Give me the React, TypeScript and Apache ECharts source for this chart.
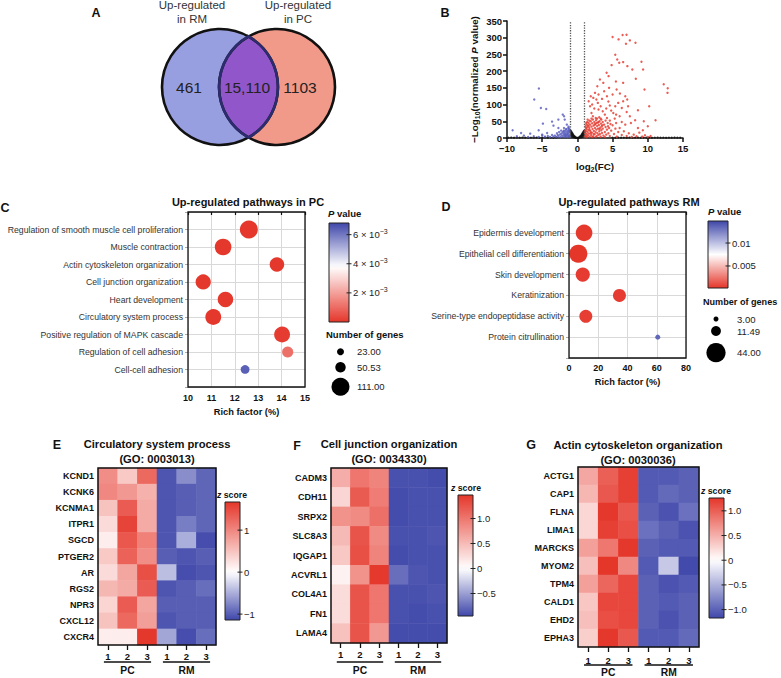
import React, { useEffect, useRef } from "react";
import * as echarts from "echarts";

const FONT = "'Liberation Sans', Arial, Helvetica, sans-serif";
const INK = "#111111";
const RED = "#e5362a";
const BLUE = "#3f47aa";

// ---------------- Panel A : Venn ----------------
const vennLabels = ["Up-regulated\nin RM", "Up-regulated\nin PC"];
const vennCounts = [461, 15110, 1103];

// ---------------- Panel B : volcano ----------------
const volcanoNS: number[][] = [
  [-9.8, 1], [-9.4, 1.5], [-9, 0.8], [-8.6, 1.2], [-8.2, 0.8], [-7.8, 1.5], [-7.4, 1], [-7, 0.6], [-6.6, 1.2],
  [-6.2, 0.8], [-5.8, 1.4], [-5.4, 0.7], [-5, 1], [-4.6, 1.5], [-4.2, 0.8], [-3.8, 1.2], [-3.4, 0.7], [-3, 1.3],
  [5.0, 1], [5.4, 0.6], [5.8, 1.3], [6.2, 0.8], [6.6, 1.2], [7, 0.7], [7.4, 1.4], [7.8, 0.8], [8.2, 1], [8.6, 1.5],
  [9, 0.7], [9.4, 1.2], [9.8, 0.8], [10.2, 1.3], [10.6, 0.7], [11, 1], [11.4, 1.4], [11.8, 0.8], [12.2, 1.1],
  [12.6, 0.7], [13, 1.2], [13.4, 0.8], [13.8, 1.3], [14.2, 0.9], [14.6, 1.1],
  [-0.98, 22], [-0.95, 16], [-0.92, 9], [-0.9, 20], [-0.88, 4], [-0.85, 13], [-0.82, 17], [-0.8, 7], [-0.77, 11],
  [-0.74, 15], [-0.7, 3], [-0.68, 9], [-0.65, 12], [-0.6, 6], [-0.57, 9], [-0.53, 2], [-0.5, 5], [-0.45, 3],
  [-0.42, 6], [-0.38, 2], [-0.33, 3], [-0.28, 1], [-0.22, 1.5], [-0.15, 0.5], [-0.08, 0.3], [0, 0.2], [0.08, 0.3],
  [0.15, 0.5], [0.22, 1.5], [0.28, 1], [0.33, 3], [0.38, 2], [0.42, 6], [0.45, 3], [0.5, 5], [0.53, 2], [0.57, 9],
  [0.6, 6], [0.65, 12], [0.68, 9], [0.7, 3], [0.74, 15], [0.77, 11], [0.8, 7], [0.82, 17], [0.85, 13], [0.88, 4],
  [0.9, 20], [0.92, 9], [0.95, 16], [0.98, 22],
];
const volcanoDown: number[][] = [
  [-5.47, 148], [-6.13, 115], [-5.19, 90], [-4.43, 87], [-9.2, 23], [-8.0, 15], [-6.7, 13], [-5.5, 23], [-4.9, 43],
  [-3.6, 49], [-3.4, 37], [-2.7, 30], [-2.08, 70], [-1.89, 65], [-1.8, 55], [-1.5, 40], [-2.7, 55], [-4.3, 15],
  [-5, 10], [-7.6, 7], [-8.6, 5],
  [-1.05, 3], [-1.1, 10], [-1.15, 18], [-1.2, 24], [-1.25, 6], [-1.3, 14], [-1.35, 21], [-1.4, 2], [-1.45, 9],
  [-1.5, 17], [-1.55, 25], [-1.6, 5], [-1.65, 12], [-1.7, 20], [-1.75, 3], [-1.8, 15], [-1.85, 8], [-1.9, 22],
  [-1.95, 11], [-2.0, 4], [-2.1, 16], [-2.2, 7], [-2.3, 13], [-2.4, 3], [-2.5, 10], [-2.6, 18], [-2.7, 5],
  [-2.8, 9], [-2.9, 14], [-3.0, 3], [-3.2, 7], [-3.4, 4], [-3.6, 9], [-3.9, 3], [-4.2, 6], [-4.6, 4], [-5.0, 7],
  [-5.5, 3], [-6.2, 5], [-7.0, 3], [-1.15, 28], [-1.3, 30], [-1.6, 27], [-1.25, 34], [-1.9, 30], [-1.1, 20],
  [-1.4, 12], [-1.7, 8], [-2.0, 19], [-2.3, 22], [-1.2, 5],
];
const volcanoUp: number[][] = [
  [5.0, 302], [6.42, 308], [6.98, 309], [7.45, 292], [5.85, 295], [6.9, 282], [8.25, 285],
  [5.38, 249], [5.66, 235], [5.94, 225], [6.5, 227], [7.1, 215], [7.8, 205], [9.1, 228], [9.33, 205],
  [4.15, 195], [4.43, 185], [4.86, 218], [3.2, 175], [3.68, 165], [2.83, 155], [5.47, 169], [6.5, 165], [8.3, 177],
  [5.57, 145], [6.04, 133], [7.08, 115], [6.8, 125], [9.53, 145], [12.26, 161], [12.83, 149], [12.8, 135],
  [2.26, 120], [2.7, 115], [3.5, 117], [4.4, 109], [4.6, 97], [5.38, 95], [6.5, 110], [7.2, 95], [8.6, 83], [10.2, 95],
  [1.8, 95], [2.0, 75], [3.0, 85], [3.9, 70], [5.1, 75], [6.0, 65], [7.45, 65], [8.2, 53], [9.43, 50], [11.1, 53],
  [10.0, 35], [8.6, 30], [9.3, 23],
  [1.6, 110], [2.1, 100], [2.4, 88], [2.9, 105], [3.3, 95], [3.6, 80], [4.1, 88], [4.8, 82], [5.5, 70], [2.2, 65],
  [2.6, 60], [3.1, 62], [3.4, 55], [4.2, 60], [4.6, 52], [5.3, 58], [6.3, 48], [6.8, 40], [7.6, 45], [2.5, 135],
  [3.8, 140], [4.2, 125], [1.9, 125], [3.0, 130], [5.8, 105], [6.3, 90], [7.0, 78], [4.5, 150], [5.0, 130],
  [1.05, 3], [1.1, 8], [1.15, 14], [1.2, 20], [1.25, 5], [1.3, 26], [1.35, 11], [1.4, 32], [1.45, 18], [1.5, 38],
  [1.5, 7], [1.55, 24], [1.6, 45], [1.65, 13], [1.7, 30], [1.75, 4], [1.8, 40], [1.85, 20], [1.9, 50], [1.95, 9],
  [2.0, 34], [2.05, 16], [2.1, 44], [2.15, 27], [2.2, 55], [2.25, 5], [2.3, 37], [2.35, 21], [2.4, 48], [2.45, 11],
  [2.5, 30], [2.55, 42], [2.6, 17], [2.65, 53], [2.7, 25], [2.75, 6], [2.8, 36], [2.85, 14], [2.9, 46], [2.95, 28],
  [3.0, 9], [3.05, 39], [3.1, 20], [3.15, 50], [3.2, 12], [3.25, 31], [3.3, 4], [3.35, 43], [3.4, 23], [3.45, 35],
  [3.5, 15], [3.6, 28], [3.7, 7], [3.8, 40], [3.9, 18], [4.0, 33], [4.1, 10], [4.2, 25], [4.3, 45], [4.4, 14],
  [4.5, 30], [4.6, 6], [4.8, 22], [5.0, 38], [5.2, 12], [5.4, 28], [5.6, 4], [5.8, 18], [6.0, 30], [6.3, 9],
  [6.6, 20], [7.0, 6], [7.3, 14], [7.7, 3], [8.0, 10], [8.4, 5], [8.8, 16], [9.2, 4], [9.6, 8], [10.0, 3], [10.4, 6],
  [1.2, 30], [1.3, 40], [1.6, 35], [1.7, 52], [1.4, 48], [2.0, 58], [2.3, 12], [2.6, 3], [3.0, 48], [2.8, 58],
  [3.6, 48], [3.3, 58], [4.0, 52], [3.9, 3], [4.7, 42], [5.5, 45], [1.1, 22], [1.9, 15], [2.1, 3], [2.7, 45],
  [1.15, 35], [1.25, 45], [1.45, 55], [1.35, 2], [1.75, 24], [2.45, 40], [3.15, 27], [3.55, 38], [4.35, 35], [1.05, 17],
];
const volcanoFcCut = [-1, 1];

// ---------------- Panel C ----------------
const pathwaysPC = [
  "Regulation of smooth muscle cell proliferation",
  "Muscle contraction",
  "Actin cytoskeleton organization",
  "Cell junction organization",
  "Heart development",
  "Circulatory system process",
  "Positive regulation of MAPK cascade",
  "Regulation of cell adhesion",
  "Cell-cell adhesion",
];
const richPC = [12.6, 11.5, 13.8, 10.65, 11.6, 11.08, 14.02, 14.26, 12.44];
const genesPC = [111, 100, 83, 89, 91, 94, 94, 56, 37];
const pPC = [0.00002, 0.00003, 0.00004, 0.00003, 0.00005, 0.00004, 0.0001, 0.0011, 0.0064];
const pRangePC = [0, 0.0038, 0.0068];
const pTicksPC = [0.002, 0.004, 0.006];
const pTickLabelsPC = ["{n|2 × 10}{s|−3}", "{n|4 × 10}{s|−3}", "{n|6 × 10}{s|−3}"];
const genesLegendPC = [23, 50.53, 111];

// ---------------- Panel D ----------------
const pathwaysRM = [
  "Epidermis development",
  "Epithelial cell differentiation",
  "Skin development",
  "Keratinization",
  "Serine-type endopeptidase activity",
  "Protein citrullination",
];
const richRM = [10.3, 6.4, 9.4, 34.5, 11.5, 60.7];
const genesRM = [33, 39, 24, 20, 20, 3];
const pRM = [0.0003, 0.0002, 0.0004, 0.0004, 0.0005, 0.0135];
const pRangeRM = [0.0002, 0.0075, 0.0148];
const pTicksRM = [0.005, 0.01];
const pTickLabelsRM = ["0.005", "0.01"];
const genesLegendRM = [3, 11.49, 44];

// ---------------- Heatmaps ----------------
const samples = ["1", "2", "3", "1", "2", "3"];
const groups = ["PC", "RM"];

const genesE = ["KCND1", "KCNK6", "KCNMA1", "ITPR1", "SGCD", "PTGER2", "AR", "RGS2", "NPR3", "CXCL12", "CXCR4"];
const zE = [
  [0.95, 0.45, 1.25, -1.05, -0.7, -0.95],
  [1.0, 0.85, 0.65, -1.05, -1.0, -0.95],
  [0.5, 1.35, 0.7, -1.05, -1.0, -0.95],
  [0.3, 1.55, 0.7, -1.05, -0.8, -0.95],
  [0.15, 1.4, 1.05, -1.05, -0.5, -1.1],
  [0.45, 1.3, 0.95, -1.0, -1.05, -1.0],
  [0.3, 0.75, 1.45, -0.4, -1.1, -1.05],
  [0.6, 0.7, 1.35, -1.05, -1.0, -0.9],
  [0.35, 1.35, 0.75, -1.0, -1.0, -1.0],
  [0.5, 1.25, 0.8, -1.05, -1.0, -1.0],
  [0.15, 0.15, 1.65, -0.55, -1.1, -0.9],
];
const zRangeE = [-1.14, 0, 1.67];
const zTicksE = [-1, 0, 1];
const zTickLabelsE = ["−1", "0", "1"];

const genesF = ["CADM3", "CDH11", "SRPX2", "SLC8A3", "IQGAP1", "ACVRL1", "COL4A1", "FN1", "LAMA4"];
const zF = [
  [0.6, 1.0, 0.9, -0.9, -0.9, -0.92],
  [0.3, 1.2, 0.95, -0.92, -0.9, -0.9],
  [0.8, 0.85, 1.05, -0.92, -0.9, -0.9],
  [0.5, 1.25, 0.85, -0.9, -0.9, -0.88],
  [0.4, 1.28, 0.9, -0.92, -0.9, -0.9],
  [0.1, 0.8, 1.45, -0.75, -0.88, -0.9],
  [0.25, 1.25, 1.0, -0.9, -0.9, -0.88],
  [0.25, 1.25, 1.0, -0.9, -0.92, -0.9],
  [0.45, 1.25, 0.75, -0.92, -0.92, -0.92],
];
const zRangeF = [-0.95, 0, 1.47];
const zTicksF = [-0.5, 0, 0.5, 1.0];
const zTickLabelsF = ["−0.5", "0", "0.5", "1.0"];

const genesG = ["ACTG1", "CAP1", "FLNA", "LIMA1", "MARCKS", "MYOM2", "TPM4", "CALD1", "EHD2", "EPHA3"];
const zG = [
  [0.55, 1.0, 1.2, -1.05, -1.05, -1.0],
  [0.45, 1.05, 1.2, -1.05, -0.95, -1.0],
  [0.25, 1.25, 1.05, -1.0, -1.1, -0.9],
  [0.25, 1.2, 1.1, -0.9, -1.0, -1.1],
  [0.6, 0.85, 1.25, -1.0, -1.05, -1.05],
  [0.4, 1.26, 0.75, -1.05, -0.35, -1.15],
  [0.6, 0.95, 1.15, -1.0, -1.1, -1.05],
  [0.35, 1.15, 1.15, -1.0, -1.05, -1.0],
  [0.4, 1.1, 1.15, -1.0, -1.1, -1.0],
  [0.3, 1.25, 1.05, -1.05, -1.05, -0.95],
];
const zRangeG = [-1.17, 0, 1.26];
const zTicksG = [-1, -0.5, 0, 0.5, 1.0];
const zTickLabelsG = ["−1.0", "−0.5", "0", "0.5", "1.0"];

// ---------------- layout ----------------
const GB = { left: 507, top: 21, width: 176, height: 117 };
const GC = { left: 188, top: 212, width: 117, height: 175 };
const GD = { left: 569, top: 212, width: 117, height: 146 };
const GE = { left: 98, top: 468, width: 118, height: 177 };
const GF = { left: 331, top: 468, width: 116, height: 175 };
const GG = { left: 578, top: 467, width: 121, height: 180 };

function hexRgb(h: string) {
  const n = parseInt(h.slice(1), 16);
  return [(n >> 16) & 255, (n >> 8) & 255, n & 255];
}
function mix(a: string, b: string, t: number) {
  const A = hexRgb(a);
  const B = hexRgb(b);
  const k = Math.max(0, Math.min(1, t));
  return "rgb(" + A.map((v, i) => Math.round(v + (B[i] - v) * k)).join(",") + ")";
}
function diverge(v: number, r: number[], lo: string, hi: string) {
  return v <= r[1] ? mix(lo, "#ffffff", (v - r[0]) / (r[1] - r[0])) : mix("#ffffff", hi, (v - r[1]) / (r[2] - r[1]));
}
function colorList(r: number[], lo: string, hi: string, n = 41) {
  const out: string[] = [];
  for (let i = 0; i < n; i++) out.push(diverge(r[0] + ((r[2] - r[0]) * i) / (n - 1), r, lo, hi));
  return out;
}
const sizePC = (n: number) => 7 + ((n - 23) / (111 - 23)) * (18 - 7);
const sizeRM = (n: number) => 2.9 * Math.sqrt(n);

function heatData(z: number[][]) {
  const out: number[][] = [];
  z.forEach((row, r) => row.forEach((v, c) => out.push([c, r, v])));
  return out;
}

export default function App() {
  const ref = useRef<HTMLDivElement>(null);
  useEffect(() => {
    if (!ref.current) return;
    const chart = echarts.init(ref.current, null, { renderer: "svg" });

    const g: any[] = [];
    const txt = (x: number, y: number, text: string, o: any = {}) =>
      g.push({
        type: "text",
        x,
        y,
        z: 120,
        style: { text, fontFamily: FONT, fontSize: 10, fill: INK, align: "center", verticalAlign: "middle", ...o },
      });
    const line = (x1: number, y1: number, x2: number, y2: number, w = 1.3, c = INK) =>
      g.push({ type: "line", z: 110, shape: { x1, y1, x2, y2 }, style: { stroke: c, lineWidth: w } });
    const box = (b: any, w = 1.3) =>
      g.push({
        type: "rect",
        z: 110,
        shape: { x: b.left, y: b.top, width: b.width, height: b.height },
        style: { fill: "none", stroke: INK, lineWidth: w },
      });

    // Panel letters
    const letter = { fontSize: 12.5, fontWeight: "bold" };
    txt(96, 13, "A", letter);
    txt(445, 13, "B", letter);
    txt(5, 208, "C", letter);
    txt(446, 207, "D", letter);
    txt(57, 445, "E", letter);
    txt(297, 446, "F", letter);
    txt(531, 445, "G", letter);

    // ---- Venn ----
    const L = { cx: 220, cy: 87, r: 58 };
    const R = { cx: 277, cy: 87, r: 58 };
    const d = R.cx - L.cx;
    const a = (d * d + L.r * L.r - R.r * R.r) / (2 * d);
    const h = Math.sqrt(L.r * L.r - a * a);
    const px = L.cx + a;
    const lens = `M ${px} ${L.cy - h} A ${L.r} ${L.r} 0 0 1 ${px} ${L.cy + h} A ${R.r} ${R.r} 0 0 1 ${px} ${L.cy - h} Z`;
    echarts.graphic.registerShape("vennLens", echarts.graphic.extendPath(lens, {}) as any);
    g.push({ type: "circle", z: 100, shape: { cx: L.cx, cy: L.cy, r: L.r }, style: { fill: "#989fe0" } });
    g.push({ type: "circle", z: 101, shape: { cx: R.cx, cy: R.cy, r: R.r }, style: { fill: "#f19a8a" } });
    g.push({ type: "vennLens", z: 102, x: 0, y: 0, style: { fill: "#9156c9" } });
    g.push({ type: "circle", z: 103, shape: { cx: L.cx, cy: L.cy, r: L.r }, style: { fill: "none", stroke: "#111", lineWidth: 2.6 } });
    g.push({ type: "circle", z: 104, shape: { cx: R.cx, cy: R.cy, r: R.r }, style: { fill: "none", stroke: "#111", lineWidth: 2.6 } });
    g.push({ type: "vennLens", z: 105, x: 0, y: 0, style: { fill: "none", stroke: "#2c2c6e", lineWidth: 2.6 } });
    txt(192, 12, vennLabels[0], { fontSize: 11.5, lineHeight: 14, fill: "#333" });
    txt(298, 12, vennLabels[1], { fontSize: 11.5, lineHeight: 14, fill: "#333" });
    const fmt = (n: number) => (n > 9999 ? n.toLocaleString("en-US") : String(n));
    txt(189, 87, fmt(vennCounts[0]), { fontSize: 15.5, fill: "#222" });
    txt(247, 87, fmt(vennCounts[1]), { fontSize: 15.5, fill: "#222" });
    txt(300, 87, fmt(vennCounts[2]), { fontSize: 15.5, fill: "#222" });

    // ---- titles ----
    txt(248, 202, "Up-regulated pathways in PC", { fontSize: 11, fontWeight: "bold" });
    txt(629, 202, "Up-regulated pathways RM", { fontSize: 11, fontWeight: "bold" });
    txt(157, 451.5, "Circulatory system process\n(GO: 0003013)", { fontSize: 11.2, fontWeight: "bold", lineHeight: 15 });
    txt(389, 451.5, "Cell junction organization\n(GO: 0034330)", { fontSize: 11.2, fontWeight: "bold", lineHeight: 15 });
    txt(638, 452.5, "Actin cytoskeleton organization\n(GO: 0030036)", { fontSize: 11.2, fontWeight: "bold", lineHeight: 15 });

    // ---- borders ----
    box(GC, 1.3);
    box(GD, 1.3);
    box(GE, 1.5);
    box(GF, 1.5);
    box(GG, 1.5);

    // ---- colorbars ----
    const supRich = {
      n: { fontSize: 9.5, fontFamily: FONT, fill: "#222", lineHeight: 14 },
      s: { fontSize: 7, fontFamily: FONT, fill: "#222", lineHeight: 8, verticalAlign: "top" },
    };
    const colorbar = (
      bx: number, by: number, bw: number, bh: number,
      r: number[], lo: string, hi: string, ticks: number[], labels: string[], fs: number
    ) => {
      const stops: any[] = [];
      for (let i = 0; i <= 24; i++) {
        const off = i / 24;
        stops.push({ offset: off, color: diverge(r[2] - off * (r[2] - r[0]), r, lo, hi) });
      }
      g.push({
        type: "rect",
        z: 100,
        shape: { x: bx, y: by, width: bw, height: bh },
        style: { fill: new echarts.graphic.LinearGradient(0, 0, 0, 1, stops), stroke: "#222", lineWidth: 1 },
      });
      ticks.forEach((t, i) => {
        const y = by + ((r[2] - t) / (r[2] - r[0])) * bh;
        line(bx + bw - 2.5, y, bx + bw + 2.5, y, 1, "#222");
        txt(bx + bw + 4, y, labels[i], { align: "left", fontSize: fs, fill: "#222", rich: supRich });
      });
    };
    const pvRich = {
      i: { fontSize: 9.5, fontWeight: "bold", fontStyle: "italic", fontFamily: FONT, fill: INK },
      b: { fontSize: 9.5, fontWeight: "bold", fontFamily: FONT, fill: INK },
    };
    colorbar(329, 223, 20, 99, pRangePC, RED, BLUE, pTicksPC, pTickLabelsPC, 9.5);
    txt(328, 213, "{i|P}{b| value}", { align: "left", rich: pvRich });
    colorbar(708, 221, 20, 67, pRangeRM, RED, BLUE, pTicksRM, pTickLabelsRM, 9.5);
    txt(708, 211, "{i|P}{b| value}", { align: "left", rich: pvRich });

    const zRich = {
      i: { fontSize: 8.7, fontWeight: "bold", fontStyle: "italic", fontFamily: FONT, fill: INK },
      b: { fontSize: 8.7, fontWeight: "bold", fontFamily: FONT, fill: INK },
    };
    colorbar(225, 502, 15, 118, zRangeE, BLUE, RED, zTicksE, zTickLabelsE, 9.5);
    txt(232, 495, "{i|z}{b| score}", { rich: zRich });
    colorbar(458, 495, 15, 121, zRangeF, BLUE, RED, zTicksF, zTickLabelsF, 9.5);
    txt(466, 488, "{i|z}{b| score}", { rich: zRich });
    colorbar(709, 498, 15, 120, zRangeG, BLUE, RED, zTicksG, zTickLabelsG, 9.5);
    txt(716, 491, "{i|z}{b| score}", { rich: zRich });

    // ---- Number of genes legends ----
    txt(326, 334, "Number of genes", { align: "left", fontSize: 9.5, fontWeight: "bold" });
    const ysPC = [351.7, 367.3, 386.7];
    genesLegendPC.forEach((n, i) => {
      g.push({ type: "circle", z: 110, shape: { cx: 340.5, cy: ysPC[i], r: sizePC(n) / 2 }, style: { fill: "#000" } });
      txt(357, ysPC[i], n.toFixed(2), { align: "left", fontSize: 9.5, fill: "#222" });
    });
    txt(703, 302, "Number of genes", { align: "left", fontSize: 9.1, fontWeight: "bold" });
    const ysRM = [319, 331, 352.7];
    genesLegendRM.forEach((n, i) => {
      g.push({ type: "circle", z: 110, shape: { cx: 716, cy: ysRM[i], r: sizeRM(n) / 2 }, style: { fill: "#000" } });
      txt(737, ysRM[i], n.toFixed(2), { align: "left", fontSize: 9.5, fill: "#222" });
    });

    // ---- PC / RM group underlines ----
    const groupMarks = (G: any, ly: number, ty: number) => {
      const cw = G.width / 6;
      line(G.left + cw * 0.3, ly, G.left + cw * 2.7, ly, 1.4);
      line(G.left + cw * 3.3, ly, G.left + cw * 5.7, ly, 1.4);
      txt(G.left + cw * 1.5, ty, groups[0], { fontSize: 10.3, fontWeight: "bold" });
      txt(G.left + cw * 4.5, ty, groups[1], { fontSize: 10.3, fontWeight: "bold" });
    };
    groupMarks(GE, 662, 670.5);
    groupMarks(GF, 662, 670.5);
    groupMarks(GG, 665, 672.5);

    // ---- axes ----
    const gridOf = (G: any) => ({ ...G, containLabel: false, outerBoundsMode: "none" });
    const minus = (v: number) => (v < 0 ? "−" + Math.abs(v) : String(v));
    const boldLbl = { fontWeight: "bold", fontSize: 9.5, color: INK, fontFamily: FONT };

    const bubbleX = (gi: number, min: number, max: number, interval: number, gap: number, margin: number) => ({
      type: "value", gridIndex: gi, min, max, interval,
      axisLine: { show: false },
      axisTick: { show: true, length: 3, lineStyle: { color: INK, width: 1.2 } },
      splitLine: { show: true, lineStyle: { color: "#d9d9d9", width: 1 } },
      axisLabel: { ...boldLbl, fontSize: 9, margin },
      name: "Rich factor (%)", nameLocation: "middle", nameGap: gap,
      nameTextStyle: { fontWeight: "bold", fontSize: 9.3, color: INK, fontFamily: FONT },
    });
    const bubbleY = (gi: number, max: number, names: string[]) => ({
      type: "value", gridIndex: gi, min: 0, max, interval: 1, inverse: true,
      axisLine: { show: false },
      axisTick: { show: true, length: 3, lineStyle: { color: "#aaa", width: 1 } },
      splitLine: { show: true, lineStyle: { color: "#d9d9d9", width: 1 } },
      axisLabel: {
        fontSize: 8.7, color: "#333", fontFamily: FONT, margin: 5,
        formatter: (v: number) => names[Math.round(v) - 1] ?? "",
      },
    });
    const heatX = (gi: number, margin: number) => ({
      type: "category", gridIndex: gi, data: samples,
      axisLine: { show: false },
      axisTick: { show: true, alignWithLabel: true, length: 5, lineStyle: { color: INK, width: 1.3 } },
      splitLine: { show: false },
      axisLabel: { ...boldLbl, fontSize: 9.5, margin },
    });
    const heatY = (gi: number, names: string[]) => ({
      type: "category", gridIndex: gi, data: names, inverse: true,
      axisLine: { show: false }, axisTick: { show: false }, splitLine: { show: false },
      axisLabel: { ...boldLbl, fontSize: 9, margin: 4 },
    });

    const option: any = {
      animation: false,
      backgroundColor: "#ffffff",
      textStyle: { fontFamily: FONT },
      grid: [gridOf(GB), gridOf(GC), gridOf(GD), gridOf(GE), gridOf(GF), gridOf(GG)],
      xAxis: [
        {
          type: "value", gridIndex: 0, min: -10, max: 15, interval: 5,
          axisLine: { show: true, onZero: false, lineStyle: { color: INK, width: 1.5 } },
          axisTick: { show: true, length: 4, lineStyle: { color: INK, width: 1.5 } },
          splitLine: { show: false },
          axisLabel: { ...boldLbl, margin: 5, formatter: minus },
          name: "{b|log}{s|2}{b|(FC)}", nameLocation: "middle", nameGap: 21,
          nameTextStyle: {
            rich: {
              b: { fontWeight: "bold", fontSize: 9.8, color: INK, fontFamily: FONT, lineHeight: 14 },
              s: { fontWeight: "bold", fontSize: 7, color: INK, fontFamily: FONT, lineHeight: 8, verticalAlign: "bottom" },
            },
          },
        },
        bubbleX(1, 10, 15, 1, 20, 6),
        bubbleX(2, 0, 80, 20, 19, 5),
        heatX(3, 6),
        heatX(4, 6),
        heatX(5, 8),
      ],
      yAxis: [
        {
          type: "value", gridIndex: 0, min: 0, max: 350, interval: 50,
          axisLine: { show: true, onZero: false, lineStyle: { color: INK, width: 1.5 } },
          axisTick: { show: true, length: 4, lineStyle: { color: INK, width: 1.5 } },
          splitLine: { show: false },
          axisLabel: { ...boldLbl, margin: 5 },
          name: "{b|−Log}{s|10}{b|(normalized }{i|P}{b| value)}",
          nameLocation: "middle", nameRotate: 90, nameGap: 26,
          nameTextStyle: {
            rich: {
              b: { fontWeight: "bold", fontSize: 9.8, color: INK, fontFamily: FONT, lineHeight: 14 },
              i: { fontWeight: "bold", fontStyle: "italic", fontSize: 9.8, color: INK, fontFamily: FONT, lineHeight: 14 },
              s: { fontWeight: "bold", fontSize: 7, color: INK, fontFamily: FONT, lineHeight: 8, verticalAlign: "bottom" },
            },
          },
        },
        bubbleY(1, 10, pathwaysPC),
        bubbleY(2, 7, pathwaysRM),
        heatY(3, genesE),
        heatY(4, genesF),
        heatY(5, genesG),
      ],
      visualMap: [
        { type: "continuous", show: false, seriesIndex: 3, dimension: 3, min: pRangePC[0], max: pRangePC[2], inRange: { color: colorList(pRangePC, RED, BLUE) } },
        { type: "continuous", show: false, seriesIndex: 4, dimension: 3, min: pRangeRM[0], max: pRangeRM[2], inRange: { color: colorList(pRangeRM, RED, BLUE) } },
        { type: "continuous", show: false, seriesIndex: 5, dimension: 2, min: zRangeE[0], max: zRangeE[2], inRange: { color: colorList(zRangeE, BLUE, RED) } },
        { type: "continuous", show: false, seriesIndex: 6, dimension: 2, min: zRangeF[0], max: zRangeF[2], inRange: { color: colorList(zRangeF, BLUE, RED) } },
        { type: "continuous", show: false, seriesIndex: 7, dimension: 2, min: zRangeG[0], max: zRangeG[2], inRange: { color: colorList(zRangeG, BLUE, RED) } },
      ],
      series: [
        {
          type: "scatter", xAxisIndex: 0, yAxisIndex: 0, data: volcanoNS, symbolSize: 2.2, silent: true,
          itemStyle: { color: "#111" },
          markLine: {
            silent: true, symbol: ["none", "none"], label: { show: false },
            lineStyle: { type: "dotted", color: "#555", width: 1.3 },
            data: volcanoFcCut.map((v) => ({ xAxis: v })),
          },
        },
        { type: "scatter", xAxisIndex: 0, yAxisIndex: 0, data: volcanoDown, symbolSize: 2.4, silent: true, itemStyle: { color: "#5559bd" } },
        { type: "scatter", xAxisIndex: 0, yAxisIndex: 0, data: volcanoUp, symbolSize: 2.4, silent: true, itemStyle: { color: RED } },
        {
          type: "scatter", xAxisIndex: 1, yAxisIndex: 1, silent: true,
          data: richPC.map((r, i) => [r, i + 1, genesPC[i], pPC[i]]),
          symbolSize: (v: number[]) => sizePC(v[2]),
          itemStyle: { opacity: 1 },
        },
        {
          type: "scatter", xAxisIndex: 2, yAxisIndex: 2, silent: true,
          data: richRM.map((r, i) => [r, i + 1, genesRM[i], pRM[i]]),
          symbolSize: (v: number[]) => sizeRM(v[2]),
          itemStyle: { opacity: 1 },
        },
        { type: "heatmap", xAxisIndex: 3, yAxisIndex: 3, data: heatData(zE), silent: true, itemStyle: { borderWidth: 0 } },
        { type: "heatmap", xAxisIndex: 4, yAxisIndex: 4, data: heatData(zF), silent: true, itemStyle: { borderWidth: 0 } },
        { type: "heatmap", xAxisIndex: 5, yAxisIndex: 5, data: heatData(zG), silent: true, itemStyle: { borderWidth: 0 } },
      ],
      graphic: { elements: g },
    };

    chart.setOption(option);
    return () => chart.dispose();
  }, []);

  return <div ref={ref} style={{ position: "absolute", left: 0, top: 0, width: 781, height: 678 }} />;
}
